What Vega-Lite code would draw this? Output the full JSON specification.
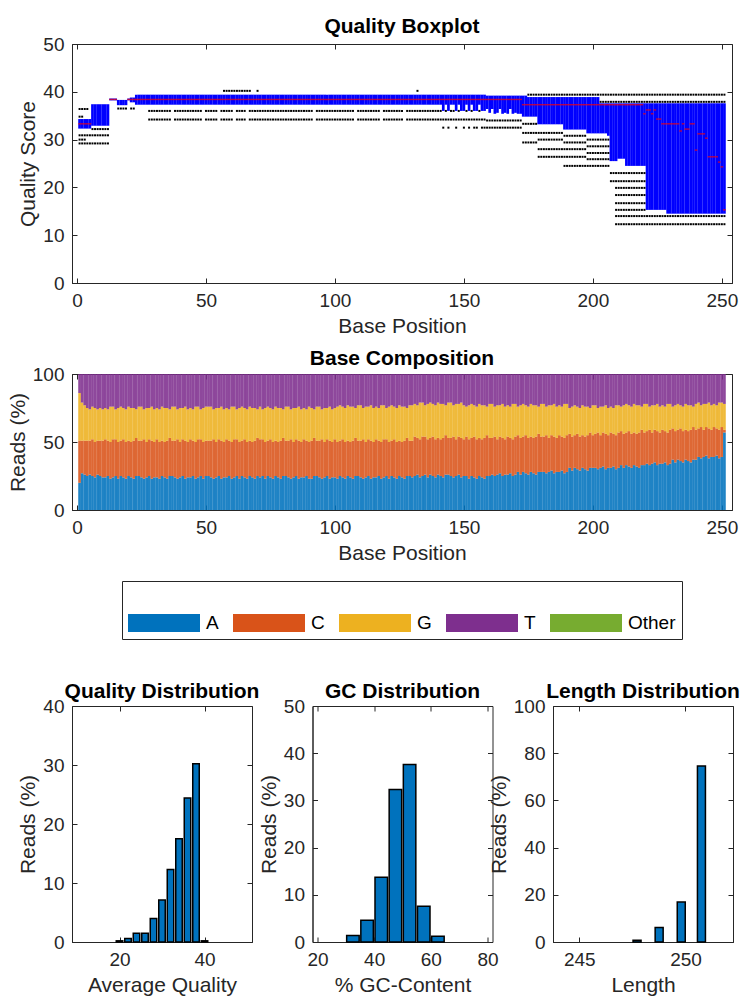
{
"$schema": "https://vega.github.io/schema/vega-lite/v6.json",
"padding": {"left": 6, "top": 15, "right": 4, "bottom": 4},
"config": {
  "font": "Liberation Sans",
  "view": {"stroke": "#262626", "strokeWidth": 1},
  "axis": {"grid": false, "labelFont": "Liberation Sans", "labelFontSize": 19, "labelColor": "#262626", "titleFont": "Liberation Sans", "titleFontSize": 21, "titleFontWeight": "normal", "titleColor": "#262626", "domainColor": "#262626", "tickColor": "#262626", "tickSize": -5, "labelPadding": 13, "labelFlush": false, "labelOverlap": false},
  "axisX": {"titlePadding": 5},
  "axisY": {"titlePadding": 4},
  "title": {"fontSize": 21, "fontWeight": "bold", "color": "#000000", "font": "Liberation Sans"}
},
"bounds": "flush",
"spacing": 91,
"vconcat": [
  {
    "width": 660, "height": 239,
    "title": {"text": "Quality Boxplot", "frame": "group", "offset": -2},
    "data": {"name": "box"},
    "layer": [
      {"layer": [
        {"mark": {"type": "bar", "width": 2.7, "color": "#0000FF"},
         "encoding": {
           "x": {"field": "p", "type": "quantitative", "scale": {"domain": [0, 252], "nice": false, "zero": false}, "axis": {"values": [0, 50, 100, 150, 200, 250]}, "title": "Base Position"},
           "y": {"field": "q1", "type": "quantitative", "scale": {"domain": [0, 50], "nice": false}, "axis": {"values": [0, 10, 20, 30, 40, 50]}, "title": "Quality Score"},
           "y2": {"field": "q3"}}},
        {"mark": {"type": "tick", "orient": "horizontal", "size": 2.7, "thickness": 1.4, "color": "#FF0000"},
         "encoding": {
           "x": {"field": "p", "type": "quantitative", "title": "Base Position"},
           "y": {"field": "m", "type": "quantitative", "title": "Quality Score"}}},
        {"transform": [{"flatten": ["o"], "as": ["ov"]}],
         "mark": {"type": "square", "size": 4, "color": "#000000", "opacity": 1},
         "encoding": {
           "x": {"field": "p", "type": "quantitative", "title": "Base Position"},
           "y": {"field": "ov", "type": "quantitative", "title": "Quality Score"}}}
      ]},
      {"mark": {"type": "point", "opacity": 0},
       "encoding": {
         "x": {"field": "p", "type": "quantitative", "axis": {"orient": "top", "labels": false, "title": null, "domain": false, "values": [0, 50, 100, 150, 200, 250]}},
         "y": {"field": "q1", "type": "quantitative", "axis": {"orient": "right", "labels": false, "title": null, "domain": false, "values": [0, 10, 20, 30, 40, 50]}}}}
    ],
    "resolve": {"axis": {"x": "independent", "y": "independent"}}
  },
  {
    "width": 660, "height": 136,
    "title": {"text": "Base Composition", "frame": "group", "offset": -4},
    "data": {"name": "comp"},
    "layer": [
      {"transform": [{"fold": ["A", "C", "G", "T"], "as": ["base", "pct"]}],
       "mark": {"type": "bar", "width": 2.7, "opacity": 0.88},
       "encoding": {
         "x": {"field": "p", "type": "quantitative", "scale": {"domain": [0, 252], "nice": false, "zero": false}, "axis": {"values": [0, 50, 100, 150, 200, 250]}, "title": "Base Position"},
         "y": {"field": "pct", "type": "quantitative", "stack": "zero", "scale": {"domain": [0, 100], "nice": false}, "axis": {"values": [0, 50, 100]}, "title": "Reads (%)"},
         "color": {"field": "base", "type": "nominal",
           "scale": {"domain": ["A", "C", "G", "T", "Other"], "range": ["#0072BD", "#D95319", "#EDB120", "#7E2F8E", "#77AC30"]},
           "legend": {"orient": "none", "legendX": 50, "legendY": 537, "direction": "horizontal", "title": null, "symbolType": "M-1,-0.25H1V0.25H-1Z", "symbolSize": 5184, "symbolStrokeWidth": 0, "symbolOpacity": 1, "labelFontSize": 19, "labelColor": "#000000", "labelOffset": 6, "columnPadding": 14, "padding": 6, "strokeColor": "#262626", "fillColor": "#FFFFFF", "labelLimit": 200}},
         "order": {"field": "base", "sort": "ascending"}
       }},
      {"mark": {"type": "point", "opacity": 0},
       "encoding": {
         "x": {"field": "p", "type": "quantitative", "axis": {"orient": "top", "labels": false, "title": null, "domain": false, "values": [0, 50, 100, 150, 200, 250]}},
         "y": {"field": "A", "type": "quantitative", "axis": {"orient": "right", "labels": false, "title": null, "domain": false, "values": [0, 50, 100]}}}}
    ],
    "resolve": {"axis": {"x": "independent", "y": "independent"}}
  },
  {
    "width": 10, "height": 14, "view": {"stroke": null},
    "data": {"values": [{"s": 0}]},
    "mark": {"type": "point", "opacity": 0},
    "encoding": {}
  },
  {
    "bounds": "flush",
    "spacing": 60.5,
    "hconcat": [
      {
        "width": 180, "height": 236,
        "title": {"text": "Quality Distribution", "frame": "group", "offset": -5},
        "data": {"name": "qual"},
        "layer": [
          {"mark": {"type": "bar", "width": 6.5, "color": "#0072BD", "stroke": "#000000", "strokeWidth": 1.5},
           "encoding": {
             "x": {"field": "q", "type": "quantitative", "scale": {"domain": [10, 50], "nice": false, "zero": false}, "axis": {"values": [20, 40]}, "title": "Average Quality"},
             "y": {"field": "r", "type": "quantitative", "scale": {"domain": [0, 40], "nice": false}, "axis": {"values": [0, 10, 20, 30, 40]}, "title": "Reads (%)"}}},
          {"mark": {"type": "point", "opacity": 0},
           "encoding": {
             "x": {"field": "q", "type": "quantitative", "axis": {"orient": "top", "labels": false, "title": null, "domain": false, "values": [20, 40]}},
             "y": {"field": "r", "type": "quantitative", "axis": {"orient": "right", "labels": false, "title": null, "domain": false, "values": [0, 10, 20, 30, 40]}}}}
        ],
        "resolve": {"axis": {"x": "independent", "y": "independent"}}
      },
      {
        "width": 180, "height": 236,
        "title": {"text": "GC Distribution", "frame": "group", "offset": -5},
        "data": {"name": "gc"},
        "layer": [
          {"mark": {"type": "bar", "width": 12.5, "color": "#0072BD", "stroke": "#000000", "strokeWidth": 1.5},
           "encoding": {
             "x": {"field": "gc", "type": "quantitative", "scale": {"domain": [20, 80], "nice": false, "zero": false}, "axis": {"values": [20, 40, 60, 80]}, "title": "% GC-Content"},
             "y": {"field": "r", "type": "quantitative", "scale": {"domain": [0, 50], "nice": false}, "axis": {"values": [0, 10, 20, 30, 40, 50]}, "title": "Reads (%)"}}},
          {"mark": {"type": "point", "opacity": 0},
           "encoding": {
             "x": {"field": "gc", "type": "quantitative", "axis": {"orient": "top", "labels": false, "title": null, "domain": false, "values": [20, 40, 60, 80]}},
             "y": {"field": "r", "type": "quantitative", "axis": {"orient": "right", "labels": false, "title": null, "domain": false, "values": [0, 10, 20, 30, 40, 50]}}}}
        ],
        "resolve": {"axis": {"x": "independent", "y": "independent"}}
      },
      {
        "width": 180, "height": 236,
        "title": {"text": "Length Distribution", "frame": "group", "offset": -5},
        "data": {"name": "len"},
        "layer": [
          {"mark": {"type": "bar", "width": 8, "color": "#0072BD", "stroke": "#000000", "strokeWidth": 1.5},
           "encoding": {
             "x": {"field": "len", "type": "quantitative", "scale": {"domain": [244, 252], "nice": false, "zero": false}, "axis": {"values": [245, 250]}, "title": "Length"},
             "y": {"field": "r", "type": "quantitative", "scale": {"domain": [0, 100], "nice": false}, "axis": {"values": [0, 20, 40, 60, 80, 100]}, "title": "Reads (%)"}}},
          {"mark": {"type": "point", "opacity": 0},
           "encoding": {
             "x": {"field": "len", "type": "quantitative", "axis": {"orient": "top", "labels": false, "title": null, "domain": false, "values": [245, 250]}},
             "y": {"field": "r", "type": "quantitative", "axis": {"orient": "right", "labels": false, "title": null, "domain": false, "values": [0, 20, 40, 60, 80, 100]}}}}
        ],
        "resolve": {"axis": {"x": "independent", "y": "independent"}}
      }
    ]
  }
],
"datasets": {
  "qual": [{"q":20,"r":0.2},{"q":22,"r":0.6},{"q":24,"r":1.5},{"q":26,"r":1.5},{"q":28,"r":4.0},{"q":30,"r":7.1},{"q":32,"r":12.3},{"q":34,"r":17.5},{"q":36,"r":24.4},{"q":38,"r":30.2},{"q":40,"r":0.2}],
  "gc": [{"gc":32.5,"r":1.4},{"gc":37.5,"r":4.6},{"gc":42.5,"r":13.7},{"gc":47.5,"r":32.3},{"gc":52.5,"r":37.6},{"gc":57.5,"r":7.6},{"gc":62.5,"r":1.2}],
  "len": [{"len":247.72,"r":0.7},{"len":248.76,"r":6.1},{"len":249.8,"r":16.9},{"len":250.75,"r":74.6}],
  "box": [
{"p":1,"q1":32.3,"q3":34.3,"m":33.3,"o":[36.4,34.8,30.9,30,29.2]},
{"p":2,"q1":32.3,"q3":34.3,"m":33.3,"o":[36.4,34.8,30.9,30,29.2]},
{"p":3,"q1":32.3,"q3":34.3,"m":33.3,"o":[36.4,30.9,30,29.2]},
{"p":4,"q1":32.3,"q3":34.3,"m":33.3,"o":[36.4,30.9,29.2]},
{"p":5,"q1":32.3,"q3":34.3,"m":33.3,"o":[30.9,29.2]},
{"p":6,"q1":32.9,"q3":37.4,"m":null,"o":[32.2,30.9,29.2]},
{"p":7,"q1":32.9,"q3":37.4,"m":null,"o":[32.2,30.9,29.2]},
{"p":8,"q1":32.9,"q3":37.4,"m":null,"o":[32.2,30.9,29.2]},
{"p":9,"q1":32.9,"q3":37.4,"m":null,"o":[32.2,30.9,29.2]},
{"p":10,"q1":32.9,"q3":37.4,"m":null,"o":[32.2,30.9,29.2]},
{"p":11,"q1":32.9,"q3":37.4,"m":null,"o":[32.2,30.9,29.2]},
{"p":12,"q1":32.9,"q3":37.4,"m":null,"o":[32.2,30.9,29.2]},
{"p":13,"q1":38.2,"q3":38.6,"m":38.4,"o":[]},
{"p":14,"q1":38.2,"q3":38.6,"m":38.4,"o":[]},
{"p":15,"q1":38.2,"q3":38.6,"m":38.4,"o":[]},
{"p":16,"q1":37.2,"q3":38.3,"m":null,"o":[36.5]},
{"p":17,"q1":37.2,"q3":38.3,"m":null,"o":[36.5]},
{"p":18,"q1":37.2,"q3":38.3,"m":null,"o":[36.5]},
{"p":19,"q1":37.2,"q3":38.3,"m":null,"o":[36.5]},
{"p":20,"q1":38.2,"q3":38.6,"m":38.4,"o":[]},
{"p":21,"q1":37.8,"q3":38.8,"m":38.4,"o":[36.5]},
{"p":22,"q1":37.8,"q3":38.8,"m":38.4,"o":[36.5]},
{"p":23,"q1":37.3,"q3":39.4,"m":38.4,"o":[]},
{"p":24,"q1":37.3,"q3":39.4,"m":38.4,"o":[]},
{"p":25,"q1":37.3,"q3":39.4,"m":38.4,"o":[]},
{"p":26,"q1":37.3,"q3":39.4,"m":38.4,"o":[]},
{"p":27,"q1":37.3,"q3":39.4,"m":38.4,"o":[]},
{"p":28,"q1":37.3,"q3":39.4,"m":38.4,"o":[36,34.2]},
{"p":29,"q1":37.3,"q3":39.4,"m":38.4,"o":[36,34.2]},
{"p":30,"q1":37.3,"q3":39.4,"m":38.4,"o":[36,34.2]},
{"p":31,"q1":37.3,"q3":39.4,"m":38.4,"o":[36,34.2]},
{"p":32,"q1":37.3,"q3":39.4,"m":38.4,"o":[36,34.2]},
{"p":33,"q1":37.3,"q3":39.4,"m":38.4,"o":[36,34.2]},
{"p":34,"q1":37.3,"q3":39.4,"m":38.4,"o":[36,34.2]},
{"p":35,"q1":37.3,"q3":39.4,"m":38.4,"o":[36,34.2]},
{"p":36,"q1":37.3,"q3":39.4,"m":38.4,"o":[36,34.2]},
{"p":37,"q1":37.3,"q3":39.4,"m":38.4,"o":[]},
{"p":38,"q1":37.3,"q3":39.4,"m":38.4,"o":[36,34.2]},
{"p":39,"q1":37.3,"q3":39.4,"m":38.4,"o":[36,34.2]},
{"p":40,"q1":37.3,"q3":39.4,"m":38.4,"o":[36,34.2]},
{"p":41,"q1":37.3,"q3":39.4,"m":38.4,"o":[36,34.2]},
{"p":42,"q1":37.3,"q3":39.4,"m":38.4,"o":[36,34.2]},
{"p":43,"q1":37.3,"q3":39.4,"m":38.4,"o":[36,34.2]},
{"p":44,"q1":37.3,"q3":39.4,"m":38.4,"o":[36,34.2]},
{"p":45,"q1":37.3,"q3":39.4,"m":38.4,"o":[36,34.2]},
{"p":46,"q1":37.3,"q3":39.4,"m":38.4,"o":[36,34.2]},
{"p":47,"q1":37.3,"q3":39.4,"m":38.4,"o":[36,34.2]},
{"p":48,"q1":37.3,"q3":39.4,"m":38.4,"o":[36,34.2]},
{"p":49,"q1":37.3,"q3":39.4,"m":38.4,"o":[]},
{"p":50,"q1":37.3,"q3":39.4,"m":38.4,"o":[36,34.2]},
{"p":51,"q1":37.3,"q3":39.4,"m":38.4,"o":[36,34.2]},
{"p":52,"q1":37.3,"q3":39.4,"m":38.4,"o":[36,34.2]},
{"p":53,"q1":37.3,"q3":39.4,"m":38.4,"o":[36,34.2]},
{"p":54,"q1":37.3,"q3":39.4,"m":38.4,"o":[36,34.2]},
{"p":55,"q1":37.3,"q3":39.4,"m":38.4,"o":[]},
{"p":56,"q1":37.3,"q3":39.4,"m":38.4,"o":[36,34.2]},
{"p":57,"q1":37.3,"q3":39.4,"m":38.4,"o":[40.2,36,34.2]},
{"p":58,"q1":37.3,"q3":39.4,"m":38.4,"o":[40.2,36,34.2]},
{"p":59,"q1":37.3,"q3":39.4,"m":38.4,"o":[40.2,36,34.2]},
{"p":60,"q1":37.3,"q3":39.4,"m":38.4,"o":[40.2,36,34.2]},
{"p":61,"q1":37.3,"q3":39.4,"m":38.4,"o":[40.2]},
{"p":62,"q1":37.3,"q3":39.4,"m":38.4,"o":[40.2,36,34.2]},
{"p":63,"q1":37.3,"q3":39.4,"m":38.4,"o":[40.2,36,34.2]},
{"p":64,"q1":37.3,"q3":39.4,"m":38.4,"o":[40.2,36,34.2]},
{"p":65,"q1":37.3,"q3":39.4,"m":38.4,"o":[40.2,36,34.2]},
{"p":66,"q1":37.3,"q3":39.4,"m":38.4,"o":[40.2]},
{"p":67,"q1":37.3,"q3":39.4,"m":38.4,"o":[40.2,36,34.2]},
{"p":68,"q1":37.3,"q3":39.4,"m":38.4,"o":[36,34.2]},
{"p":69,"q1":37.3,"q3":39.4,"m":38.4,"o":[36,34.2]},
{"p":70,"q1":37.3,"q3":39.4,"m":38.4,"o":[40.2,36,34.2]},
{"p":71,"q1":37.3,"q3":39.4,"m":38.4,"o":[36,34.2]},
{"p":72,"q1":37.3,"q3":39.4,"m":38.4,"o":[36,34.2]},
{"p":73,"q1":37.3,"q3":39.4,"m":38.4,"o":[36,34.2]},
{"p":74,"q1":37.3,"q3":39.4,"m":38.4,"o":[36,34.2]},
{"p":75,"q1":37.3,"q3":39.4,"m":38.4,"o":[36,34.2]},
{"p":76,"q1":37.3,"q3":39.4,"m":38.4,"o":[36,34.2]},
{"p":77,"q1":37.3,"q3":39.4,"m":38.4,"o":[36,34.2]},
{"p":78,"q1":37.3,"q3":39.4,"m":38.4,"o":[36,34.2]},
{"p":79,"q1":37.3,"q3":39.4,"m":38.4,"o":[36,34.2]},
{"p":80,"q1":37.3,"q3":39.4,"m":38.4,"o":[36,34.2]},
{"p":81,"q1":37.3,"q3":39.4,"m":38.4,"o":[36,34.2]},
{"p":82,"q1":37.3,"q3":39.4,"m":38.4,"o":[36,34.2]},
{"p":83,"q1":37.3,"q3":39.4,"m":38.4,"o":[36,34.2]},
{"p":84,"q1":37.3,"q3":39.4,"m":38.4,"o":[36,34.2]},
{"p":85,"q1":37.3,"q3":39.4,"m":38.4,"o":[36,34.2]},
{"p":86,"q1":37.3,"q3":39.4,"m":38.4,"o":[36,34.2]},
{"p":87,"q1":37.3,"q3":39.4,"m":38.4,"o":[36,34.2]},
{"p":88,"q1":37.3,"q3":39.4,"m":38.4,"o":[36,34.2]},
{"p":89,"q1":37.3,"q3":39.4,"m":38.4,"o":[36,34.2]},
{"p":90,"q1":37.3,"q3":39.4,"m":38.4,"o":[36,34.2]},
{"p":91,"q1":37.3,"q3":39.4,"m":38.4,"o":[36,34.2]},
{"p":92,"q1":37.3,"q3":39.4,"m":38.4,"o":[]},
{"p":93,"q1":37.3,"q3":39.4,"m":38.4,"o":[36,34.2]},
{"p":94,"q1":37.3,"q3":39.4,"m":38.4,"o":[36,34.2]},
{"p":95,"q1":37.3,"q3":39.4,"m":38.4,"o":[36,34.2]},
{"p":96,"q1":37.3,"q3":39.4,"m":38.4,"o":[36,34.2]},
{"p":97,"q1":37.3,"q3":39.4,"m":38.4,"o":[36,34.2]},
{"p":98,"q1":37.3,"q3":39.4,"m":38.4,"o":[36,34.2]},
{"p":99,"q1":37.3,"q3":39.4,"m":38.4,"o":[36,34.2]},
{"p":100,"q1":37.3,"q3":39.4,"m":38.4,"o":[36,34.2]},
{"p":101,"q1":37.3,"q3":39.4,"m":38.4,"o":[36,34.2]},
{"p":102,"q1":37.3,"q3":39.4,"m":38.4,"o":[36,34.2]},
{"p":103,"q1":37.3,"q3":39.4,"m":38.4,"o":[36,34.2]},
{"p":104,"q1":37.3,"q3":39.4,"m":38.4,"o":[36,34.2]},
{"p":105,"q1":37.3,"q3":39.4,"m":38.4,"o":[36,34.2]},
{"p":106,"q1":37.3,"q3":39.4,"m":38.4,"o":[36,34.2]},
{"p":107,"q1":37.3,"q3":39.4,"m":38.4,"o":[36,34.2]},
{"p":108,"q1":37.3,"q3":39.4,"m":38.4,"o":[]},
{"p":109,"q1":37.3,"q3":39.4,"m":38.4,"o":[36,34.2]},
{"p":110,"q1":37.3,"q3":39.4,"m":38.4,"o":[36,34.2]},
{"p":111,"q1":37.3,"q3":39.4,"m":38.4,"o":[36,34.2]},
{"p":112,"q1":37.3,"q3":39.4,"m":38.4,"o":[36,34.2]},
{"p":113,"q1":37.3,"q3":39.4,"m":38.4,"o":[36,34.2]},
{"p":114,"q1":37.3,"q3":39.4,"m":38.4,"o":[36,34.2]},
{"p":115,"q1":37.3,"q3":39.4,"m":38.4,"o":[36,34.2]},
{"p":116,"q1":37.3,"q3":39.4,"m":38.4,"o":[36,34.2]},
{"p":117,"q1":37.3,"q3":39.4,"m":38.4,"o":[36,34.2]},
{"p":118,"q1":37.3,"q3":39.4,"m":38.4,"o":[]},
{"p":119,"q1":37.3,"q3":39.4,"m":38.4,"o":[36,34.2]},
{"p":120,"q1":37.3,"q3":39.4,"m":38.4,"o":[36,34.2]},
{"p":121,"q1":37.3,"q3":39.4,"m":38.4,"o":[36,34.2]},
{"p":122,"q1":37.3,"q3":39.4,"m":38.4,"o":[36,34.2]},
{"p":123,"q1":37.3,"q3":39.4,"m":38.4,"o":[36,34.2]},
{"p":124,"q1":37.3,"q3":39.4,"m":38.4,"o":[36,34.2]},
{"p":125,"q1":37.3,"q3":39.4,"m":38.4,"o":[36,34.2]},
{"p":126,"q1":37.3,"q3":39.4,"m":38.4,"o":[36,34.2]},
{"p":127,"q1":37.3,"q3":39.4,"m":38.4,"o":[]},
{"p":128,"q1":37.3,"q3":39.4,"m":38.4,"o":[36,34.2]},
{"p":129,"q1":37.3,"q3":39.4,"m":38.4,"o":[36,34.2]},
{"p":130,"q1":37.3,"q3":39.4,"m":38.4,"o":[36,34.2]},
{"p":131,"q1":37.3,"q3":39.4,"m":38.4,"o":[36,34.2]},
{"p":132,"q1":37.3,"q3":39.4,"m":38.4,"o":[40.2,36,34.2]},
{"p":133,"q1":37.3,"q3":39.4,"m":38.4,"o":[36,34.2]},
{"p":134,"q1":37.3,"q3":39.4,"m":38.4,"o":[36,34.2]},
{"p":135,"q1":37.3,"q3":39.4,"m":38.4,"o":[36,34.2]},
{"p":136,"q1":37.3,"q3":39.4,"m":38.4,"o":[36,34.2]},
{"p":137,"q1":37.3,"q3":39.4,"m":38.4,"o":[36,34.2]},
{"p":138,"q1":37.3,"q3":39.4,"m":38.4,"o":[36,34.2]},
{"p":139,"q1":37.3,"q3":39.4,"m":38.4,"o":[36,34.2]},
{"p":140,"q1":37.3,"q3":39.4,"m":38.4,"o":[36,34.2]},
{"p":141,"q1":37.3,"q3":39.4,"m":38.4,"o":[36,34.2]},
{"p":142,"q1":36,"q3":39.4,"m":38.4,"o":[34.2,32.5]},
{"p":143,"q1":37.3,"q3":39.4,"m":38.4,"o":[36,34.2]},
{"p":144,"q1":36,"q3":39.4,"m":38.4,"o":[34.2,32.5]},
{"p":145,"q1":37.3,"q3":39.4,"m":38.4,"o":[36,34.2]},
{"p":146,"q1":37.3,"q3":39.4,"m":38.4,"o":[36,34.2]},
{"p":147,"q1":36,"q3":39.4,"m":38.4,"o":[34.2,32.5]},
{"p":148,"q1":37.3,"q3":39.4,"m":38.4,"o":[36,34.2]},
{"p":149,"q1":36,"q3":39.4,"m":38.4,"o":[34.2]},
{"p":150,"q1":36,"q3":39.4,"m":38.4,"o":[34.2,32.5]},
{"p":151,"q1":37.3,"q3":39.4,"m":38.4,"o":[36,34.2]},
{"p":152,"q1":36,"q3":39.4,"m":38.4,"o":[34.2,32.5]},
{"p":153,"q1":37.3,"q3":39.4,"m":38.4,"o":[36,34.2]},
{"p":154,"q1":36,"q3":39.4,"m":38.4,"o":[34.2,32.5]},
{"p":155,"q1":36,"q3":39.4,"m":38.4,"o":[34.2,32.5]},
{"p":156,"q1":37.3,"q3":39.4,"m":38.4,"o":[36,34.2]},
{"p":157,"q1":36,"q3":39.4,"m":38.4,"o":[34.2,32.5]},
{"p":158,"q1":36,"q3":39.4,"m":38.4,"o":[34.2,32.5]},
{"p":159,"q1":36.4,"q3":39.2,"m":38.4,"o":[34,32.5]},
{"p":160,"q1":35.6,"q3":39.2,"m":38.4,"o":[34,32.5]},
{"p":161,"q1":36.4,"q3":39.2,"m":38.4,"o":[34,32.5]},
{"p":162,"q1":35.4,"q3":39.2,"m":38.4,"o":[34,32.5]},
{"p":163,"q1":35.6,"q3":39.2,"m":38.4,"o":[34,32.5]},
{"p":164,"q1":36.4,"q3":39.2,"m":38.4,"o":[34,32.5]},
{"p":165,"q1":35.4,"q3":39.2,"m":38.4,"o":[34,32.5]},
{"p":166,"q1":35.6,"q3":39.2,"m":38.4,"o":[34,32.5]},
{"p":167,"q1":35.4,"q3":39.2,"m":38.4,"o":[34,32.5]},
{"p":168,"q1":36.4,"q3":39.2,"m":38.4,"o":[34,32.5]},
{"p":169,"q1":35.4,"q3":39.2,"m":38.4,"o":[34,32.5]},
{"p":170,"q1":35.6,"q3":39.2,"m":38.4,"o":[34,32.5]},
{"p":171,"q1":35.4,"q3":39.2,"m":38.4,"o":[34,32.5]},
{"p":172,"q1":35.4,"q3":39.2,"m":38.4,"o":[34,32.5]},
{"p":173,"q1":34.8,"q3":39.2,"m":37.3,"o":[33.3,31.4,29.4]},
{"p":174,"q1":34.8,"q3":39.2,"m":37.3,"o":[33.3,31.4,29.4]},
{"p":175,"q1":34.8,"q3":38.9,"m":37.3,"o":[39.4,33.3,31.4,29.4]},
{"p":176,"q1":34.8,"q3":38.9,"m":37.3,"o":[39.4,33.3,31.4,29.4]},
{"p":177,"q1":34.8,"q3":38.9,"m":37.3,"o":[39.4,33.3,31.4,29.4]},
{"p":178,"q1":34.8,"q3":38.9,"m":37.3,"o":[39.4,33.3,31.4,29.4]},
{"p":179,"q1":33.2,"q3":38.9,"m":37.3,"o":[39.4,31.4,30,28,26.4]},
{"p":180,"q1":33.2,"q3":38.9,"m":37.3,"o":[39.4,31.4,30,28,26.4]},
{"p":181,"q1":33.2,"q3":38.9,"m":37.3,"o":[39.4,31.4,30,28,26.4]},
{"p":182,"q1":33.2,"q3":38.9,"m":37.3,"o":[39.4,31.4,30,28,26.4]},
{"p":183,"q1":33.2,"q3":38.9,"m":37.3,"o":[39.4,31.4,30,28,26.4]},
{"p":184,"q1":33.2,"q3":38.9,"m":37.3,"o":[39.4,31.4,30,28,26.4]},
{"p":185,"q1":33.2,"q3":38.9,"m":37.3,"o":[39.4,31.4,30,28,26.4]},
{"p":186,"q1":33.2,"q3":38.9,"m":37.3,"o":[39.4,31.4,30,28,26.4]},
{"p":187,"q1":33.2,"q3":38.9,"m":37.3,"o":[39.4,31.4,30,28,26.4]},
{"p":188,"q1":33.2,"q3":38.9,"m":37.3,"o":[39.4,31.4,30,28,26.4]},
{"p":189,"q1":32.1,"q3":38.9,"m":37.3,"o":[39.4,30.8,29.4,28,26.4,24.5]},
{"p":190,"q1":32.1,"q3":38.9,"m":37.3,"o":[39.4,30.8,29.4,28,26.4,24.5]},
{"p":191,"q1":32.1,"q3":38.9,"m":37.3,"o":[39.4,30.8,29.4,28,26.4,24.5]},
{"p":192,"q1":32.1,"q3":38.9,"m":37.3,"o":[39.4,30.8,29.4,28,26.4,24.5]},
{"p":193,"q1":32.1,"q3":38.9,"m":37.3,"o":[39.4,30.8,29.4,28,26.4,24.5]},
{"p":194,"q1":32.1,"q3":38.9,"m":37.3,"o":[39.4,30.8,29.4,28,26.4,24.5]},
{"p":195,"q1":32.1,"q3":38.9,"m":37.3,"o":[39.4,30.8,29.4,28,26.4,24.5]},
{"p":196,"q1":32.1,"q3":38.9,"m":37.3,"o":[39.4,30.8,29.4,28,26.4,24.5]},
{"p":197,"q1":32.1,"q3":38.9,"m":37.3,"o":[39.4,30.8,29.4,28,26.4,24.5]},
{"p":198,"q1":31.3,"q3":38.9,"m":37.3,"o":[39.4,30,28.6,27.2,25.9,24.5]},
{"p":199,"q1":31.3,"q3":38.9,"m":37.3,"o":[39.4,30,28.6,27.2,25.9,24.5]},
{"p":200,"q1":31.3,"q3":38.9,"m":37.3,"o":[39.4,30,28.6,27.2,25.9,24.5]},
{"p":201,"q1":31.3,"q3":38.9,"m":37.3,"o":[39.4,30,28.6,27.2,25.9,24.5]},
{"p":202,"q1":31.3,"q3":38.9,"m":37.3,"o":[39.4,30,28.6,27.2,25.9,24.5]},
{"p":203,"q1":31.3,"q3":37.6,"m":37.3,"o":[39.4,37.9,30,28.6,27.2,25.9,24.5]},
{"p":204,"q1":31.3,"q3":37.6,"m":37.3,"o":[39.4,37.9,30,28.6,27.2,25.9,24.5]},
{"p":205,"q1":31.3,"q3":37.6,"m":37.3,"o":[39.4,37.9,30,28.6,27.2,25.9,24.5]},
{"p":206,"q1":30.8,"q3":37.6,"m":37.3,"o":[39.4,37.9,30,28.6,27.2,25.9,24.5]},
{"p":207,"q1":25.5,"q3":37.6,"m":37.3,"o":[39.4,37.9,23,21.3]},
{"p":208,"q1":25.5,"q3":37.6,"m":37.3,"o":[39.4,37.9,23,21.3]},
{"p":209,"q1":25.5,"q3":37.6,"m":37.3,"o":[39.4,37.9,23,21.3,19.9,18.4,16.7,15.3,14,12.3]},
{"p":210,"q1":26,"q3":37.6,"m":37.3,"o":[39.4,37.9,23,21.3,19.9,18.4,16.7,15.3,14,12.3]},
{"p":211,"q1":26,"q3":37.6,"m":37.3,"o":[39.4,37.9,23,21.3,19.9,18.4,16.7,15.3,14,12.3]},
{"p":212,"q1":26,"q3":37.6,"m":37.3,"o":[39.4,37.9,23,21.3,19.9,18.4,16.7,15.3,14,12.3]},
{"p":213,"q1":24.5,"q3":37.6,"m":37.3,"o":[39.4,37.9,23,21.3,19.9,18.4,16.7,15.3,14,12.3]},
{"p":214,"q1":24.5,"q3":37.6,"m":37.3,"o":[39.4,37.9,23,21.3,19.9,18.4,16.7,15.3,14,12.3]},
{"p":215,"q1":24.5,"q3":37.6,"m":37.3,"o":[39.4,37.9,23,21.3,19.9,18.4,16.7,15.3,14,12.3]},
{"p":216,"q1":24.5,"q3":37.6,"m":37.3,"o":[39.4,37.9,23,21.3,19.9,18.4,16.7,15.3,14,12.3]},
{"p":217,"q1":24.5,"q3":37.6,"m":37.3,"o":[39.4,37.9,23,21.3,19.9,18.4,16.7,15.3,14,12.3]},
{"p":218,"q1":24.5,"q3":37.6,"m":37.3,"o":[39.4,37.9,23,21.3,19.9,18.4,16.7,15.3,14,12.3]},
{"p":219,"q1":24.5,"q3":37.6,"m":37.3,"o":[39.4,37.9,23,21.3,19.9,18.4,16.7,15.3,14,12.3]},
{"p":220,"q1":24.5,"q3":37.6,"m":35.4,"o":[39.4,37.9,23,21.3,19.9,18.4,16.7,15.3,14,12.3]},
{"p":221,"q1":15.3,"q3":37.6,"m":36.2,"o":[39.4,37.9,14,12.3]},
{"p":222,"q1":15.3,"q3":37.6,"m":36.2,"o":[39.4,37.9,14,12.3]},
{"p":223,"q1":15.3,"q3":37.6,"m":35.4,"o":[39.4,37.9,14,12.3]},
{"p":224,"q1":15.3,"q3":37.6,"m":36.2,"o":[39.4,37.9,14,12.3]},
{"p":225,"q1":15.3,"q3":37.6,"m":34.3,"o":[39.4,37.9,14,12.3]},
{"p":226,"q1":15.3,"q3":37.6,"m":34.3,"o":[39.4,37.9,14,12.3]},
{"p":227,"q1":15.3,"q3":37.6,"m":33.3,"o":[39.4,37.9,14,12.3]},
{"p":228,"q1":15.3,"q3":37.6,"m":33.3,"o":[39.4,37.9,14,12.3]},
{"p":229,"q1":14.5,"q3":37.6,"m":33.3,"o":[39.4,37.9,14,12.3]},
{"p":230,"q1":14.5,"q3":37.6,"m":33.3,"o":[39.4,37.9,14,12.3]},
{"p":231,"q1":14.5,"q3":37.6,"m":33.3,"o":[39.4,37.9,14,12.3]},
{"p":232,"q1":14.5,"q3":37.6,"m":33.3,"o":[39.4,37.9,14,12.3]},
{"p":233,"q1":14.5,"q3":37.6,"m":33.3,"o":[39.4,37.9,14,12.3]},
{"p":234,"q1":14.5,"q3":37.6,"m":31.8,"o":[39.4,37.9,14,12.3]},
{"p":235,"q1":14.5,"q3":37.6,"m":33.3,"o":[39.4,37.9,14,12.3]},
{"p":236,"q1":14.5,"q3":37.6,"m":32.2,"o":[39.4,37.9,14,12.3]},
{"p":237,"q1":14.5,"q3":37.6,"m":32.2,"o":[39.4,37.9,14,12.3]},
{"p":238,"q1":14.5,"q3":37.6,"m":33.3,"o":[39.4,37.9,14,12.3]},
{"p":239,"q1":14.5,"q3":37.6,"m":33.3,"o":[39.4,37.9,14,12.3]},
{"p":240,"q1":14.5,"q3":37.6,"m":27.8,"o":[39.4,37.9,14,12.3]},
{"p":241,"q1":14.5,"q3":37.6,"m":31.2,"o":[39.4,37.9,14,12.3]},
{"p":242,"q1":14.5,"q3":37.6,"m":31.2,"o":[39.4,37.9,14,12.3]},
{"p":243,"q1":14.5,"q3":37.6,"m":31.2,"o":[39.4,37.9,14,12.3]},
{"p":244,"q1":14.5,"q3":37.6,"m":30.3,"o":[39.4,37.9,14,12.3]},
{"p":245,"q1":14.5,"q3":37.6,"m":26.4,"o":[39.4,37.9,14,12.3]},
{"p":246,"q1":14.5,"q3":37.6,"m":26.4,"o":[39.4,37.9,14,12.3]},
{"p":247,"q1":14.5,"q3":37.6,"m":26.4,"o":[39.4,37.9,14,12.3]},
{"p":248,"q1":14.5,"q3":37.6,"m":26.4,"o":[39.4,37.9,14,12.3]},
{"p":249,"q1":14.5,"q3":37.6,"m":25.3,"o":[39.4,37.9,14,12.3]},
{"p":250,"q1":14.5,"q3":37.6,"m":24.3,"o":[39.4,37.9,14,12.3]},
{"p":251,"q1":14.5,"q3":37.6,"m":15.3,"o":[39.4,37.9,14,12.3]}
  ],
  "comp": [
{"p":1,"A":20,"C":31,"G":35,"T":14},{"p":2,"A":27,"C":24,"G":28,"T":21},{"p":3,"A":26,"C":25,"G":26,"T":23},{"p":4,"A":25,"C":26,"G":24,"T":25},{"p":5,"A":26,"C":25,"G":23,"T":26},
{"p":6,"A":25,"C":27,"G":24,"T":24},{"p":7,"A":24,"C":26,"G":25,"T":25},{"p":8,"A":26,"C":25,"G":23,"T":26},{"p":9,"A":25,"C":26,"G":24,"T":25},{"p":10,"A":24,"C":27,"G":23,"T":26},
{"p":11,"A":24,"C":28,"G":23,"T":25},{"p":12,"A":25,"C":26,"G":23,"T":26},{"p":13,"A":23,"C":27,"G":26,"T":24},{"p":14,"A":24,"C":28,"G":24,"T":24},{"p":15,"A":25,"C":27,"G":22,"T":26},
{"p":16,"A":23,"C":27,"G":25,"T":25},{"p":17,"A":25,"C":26,"G":25,"T":24},{"p":18,"A":24,"C":28,"G":23,"T":25},{"p":19,"A":23,"C":27,"G":24,"T":26},{"p":20,"A":25,"C":26,"G":25,"T":24},
{"p":21,"A":24,"C":26,"G":25,"T":25},{"p":22,"A":23,"C":28,"G":24,"T":25},{"p":23,"A":25,"C":28,"G":21,"T":26},{"p":24,"A":25,"C":26,"G":25,"T":24},{"p":25,"A":24,"C":27,"G":25,"T":24},
{"p":26,"A":23,"C":29,"G":22,"T":26},{"p":27,"A":24,"C":26,"G":25,"T":25},{"p":28,"A":25,"C":27,"G":23,"T":25},{"p":29,"A":23,"C":28,"G":25,"T":24},{"p":30,"A":24,"C":26,"G":24,"T":26},
{"p":31,"A":24,"C":28,"G":23,"T":25},{"p":32,"A":23,"C":27,"G":24,"T":26},{"p":33,"A":25,"C":26,"G":25,"T":24},{"p":34,"A":24,"C":26,"G":25,"T":25},{"p":35,"A":23,"C":28,"G":24,"T":25},
{"p":36,"A":25,"C":28,"G":21,"T":26},{"p":37,"A":25,"C":26,"G":25,"T":24},{"p":38,"A":24,"C":27,"G":25,"T":24},{"p":39,"A":23,"C":29,"G":22,"T":26},{"p":40,"A":24,"C":26,"G":25,"T":25},
{"p":41,"A":25,"C":27,"G":23,"T":25},{"p":42,"A":23,"C":28,"G":25,"T":24},{"p":43,"A":24,"C":26,"G":24,"T":26},{"p":44,"A":24,"C":28,"G":23,"T":25},{"p":45,"A":25,"C":26,"G":23,"T":26},
{"p":46,"A":23,"C":27,"G":26,"T":24},{"p":47,"A":24,"C":28,"G":24,"T":24},{"p":48,"A":25,"C":27,"G":22,"T":26},{"p":49,"A":23,"C":27,"G":25,"T":25},{"p":50,"A":25,"C":26,"G":25,"T":24},
{"p":51,"A":25,"C":26,"G":25,"T":24},{"p":52,"A":24,"C":27,"G":25,"T":24},{"p":53,"A":23,"C":29,"G":22,"T":26},{"p":54,"A":24,"C":26,"G":25,"T":25},{"p":55,"A":25,"C":27,"G":23,"T":25},
{"p":56,"A":23,"C":28,"G":25,"T":24},{"p":57,"A":24,"C":26,"G":24,"T":26},{"p":58,"A":24,"C":28,"G":23,"T":25},{"p":59,"A":25,"C":26,"G":23,"T":26},{"p":60,"A":23,"C":27,"G":26,"T":24},
{"p":61,"A":24,"C":28,"G":24,"T":24},{"p":62,"A":25,"C":27,"G":22,"T":26},{"p":63,"A":23,"C":27,"G":25,"T":25},{"p":64,"A":25,"C":26,"G":25,"T":24},{"p":65,"A":24,"C":28,"G":23,"T":25},
{"p":66,"A":23,"C":27,"G":24,"T":26},{"p":67,"A":25,"C":26,"G":25,"T":24},{"p":68,"A":24,"C":26,"G":25,"T":25},{"p":69,"A":23,"C":28,"G":24,"T":25},{"p":70,"A":25,"C":28,"G":21,"T":26},
{"p":71,"A":24,"C":28,"G":24,"T":24},{"p":72,"A":25,"C":27,"G":22,"T":26},{"p":73,"A":23,"C":27,"G":25,"T":25},{"p":74,"A":25,"C":26,"G":25,"T":24},{"p":75,"A":24,"C":28,"G":23,"T":25},
{"p":76,"A":23,"C":27,"G":24,"T":26},{"p":77,"A":25,"C":26,"G":25,"T":24},{"p":78,"A":24,"C":26,"G":25,"T":25},{"p":79,"A":23,"C":28,"G":24,"T":25},{"p":80,"A":25,"C":28,"G":21,"T":26},
{"p":81,"A":25,"C":26,"G":25,"T":24},{"p":82,"A":24,"C":27,"G":25,"T":24},{"p":83,"A":23,"C":29,"G":22,"T":26},{"p":84,"A":24,"C":26,"G":25,"T":25},{"p":85,"A":25,"C":27,"G":23,"T":25},
{"p":86,"A":23,"C":28,"G":25,"T":24},{"p":87,"A":24,"C":26,"G":24,"T":26},{"p":88,"A":24,"C":28,"G":23,"T":25},{"p":89,"A":25,"C":26,"G":23,"T":26},{"p":90,"A":23,"C":27,"G":26,"T":24},
{"p":91,"A":23,"C":28,"G":24,"T":25},{"p":92,"A":25,"C":28,"G":21,"T":26},{"p":93,"A":25,"C":26,"G":25,"T":24},{"p":94,"A":24,"C":27,"G":25,"T":24},{"p":95,"A":23,"C":29,"G":22,"T":26},
{"p":96,"A":24,"C":26,"G":25,"T":25},{"p":97,"A":25,"C":27,"G":23,"T":25},{"p":98,"A":23,"C":28,"G":25,"T":24},{"p":99,"A":24,"C":26,"G":24,"T":26},{"p":100,"A":24,"C":28,"G":23,"T":25},
{"p":101,"A":23,"C":27,"G":26,"T":24},{"p":102,"A":25,"C":26,"G":26,"T":23},{"p":103,"A":24,"C":28,"G":24,"T":24},{"p":104,"A":23,"C":27,"G":25,"T":25},{"p":105,"A":25,"C":26,"G":26,"T":23},
{"p":106,"A":24,"C":26,"G":26,"T":24},{"p":107,"A":23,"C":28,"G":25,"T":24},{"p":108,"A":25,"C":28,"G":22,"T":25},{"p":109,"A":25,"C":26,"G":26,"T":23},{"p":110,"A":24,"C":27,"G":26,"T":23},
{"p":111,"A":23,"C":29,"G":23,"T":25},{"p":112,"A":24,"C":26,"G":26,"T":24},{"p":113,"A":25,"C":27,"G":24,"T":24},{"p":114,"A":23,"C":28,"G":26,"T":23},{"p":115,"A":24,"C":26,"G":25,"T":25},
{"p":116,"A":24,"C":28,"G":24,"T":24},{"p":117,"A":25,"C":26,"G":24,"T":25},{"p":118,"A":23,"C":27,"G":27,"T":23},{"p":119,"A":24,"C":28,"G":25,"T":23},{"p":120,"A":25,"C":27,"G":23,"T":25},
{"p":121,"A":23,"C":27,"G":26,"T":24},{"p":122,"A":25,"C":26,"G":26,"T":23},{"p":123,"A":24,"C":28,"G":24,"T":24},{"p":124,"A":23,"C":27,"G":25,"T":25},{"p":125,"A":25,"C":26,"G":26,"T":23},
{"p":126,"A":24,"C":26,"G":26,"T":24},{"p":127,"A":23,"C":28,"G":25,"T":24},{"p":128,"A":25,"C":28,"G":22,"T":25},{"p":129,"A":25,"C":26,"G":26,"T":23},{"p":130,"A":24,"C":27,"G":26,"T":23},
{"p":131,"A":25,"C":29,"G":24,"T":22},{"p":132,"A":26,"C":27,"G":24,"T":23},{"p":133,"A":24,"C":28,"G":27,"T":21},{"p":134,"A":25,"C":29,"G":25,"T":21},{"p":135,"A":26,"C":28,"G":23,"T":23},
{"p":136,"A":24,"C":28,"G":26,"T":22},{"p":137,"A":26,"C":27,"G":26,"T":21},{"p":138,"A":25,"C":29,"G":24,"T":22},{"p":139,"A":24,"C":28,"G":25,"T":23},{"p":140,"A":26,"C":27,"G":26,"T":21},
{"p":141,"A":25,"C":27,"G":26,"T":22},{"p":142,"A":24,"C":29,"G":25,"T":22},{"p":143,"A":26,"C":29,"G":22,"T":23},{"p":144,"A":26,"C":27,"G":26,"T":21},{"p":145,"A":25,"C":28,"G":26,"T":21},
{"p":146,"A":24,"C":30,"G":23,"T":23},{"p":147,"A":25,"C":27,"G":26,"T":22},{"p":148,"A":26,"C":28,"G":24,"T":22},{"p":149,"A":24,"C":29,"G":26,"T":21},{"p":150,"A":25,"C":27,"G":25,"T":23},
{"p":151,"A":25,"C":29,"G":22,"T":24},{"p":152,"A":23,"C":29,"G":25,"T":23},{"p":153,"A":25,"C":28,"G":25,"T":22},{"p":154,"A":24,"C":30,"G":23,"T":23},{"p":155,"A":23,"C":29,"G":24,"T":24},
{"p":156,"A":25,"C":28,"G":25,"T":22},{"p":157,"A":24,"C":28,"G":25,"T":23},{"p":158,"A":23,"C":30,"G":24,"T":23},{"p":159,"A":25,"C":30,"G":21,"T":24},{"p":160,"A":25,"C":28,"G":25,"T":22},
{"p":161,"A":26,"C":27,"G":25,"T":22},{"p":162,"A":25,"C":29,"G":22,"T":24},{"p":163,"A":26,"C":26,"G":25,"T":23},{"p":164,"A":27,"C":27,"G":23,"T":23},{"p":165,"A":25,"C":28,"G":25,"T":22},
{"p":166,"A":26,"C":26,"G":24,"T":24},{"p":167,"A":26,"C":28,"G":23,"T":23},{"p":168,"A":27,"C":26,"G":23,"T":24},{"p":169,"A":25,"C":27,"G":26,"T":22},{"p":170,"A":26,"C":28,"G":24,"T":22},
{"p":171,"A":28,"C":27,"G":21,"T":24},{"p":172,"A":26,"C":27,"G":24,"T":23},{"p":173,"A":28,"C":26,"G":24,"T":22},{"p":174,"A":27,"C":28,"G":22,"T":23},{"p":175,"A":26,"C":27,"G":23,"T":24},
{"p":176,"A":28,"C":26,"G":24,"T":22},{"p":177,"A":27,"C":26,"G":24,"T":23},{"p":178,"A":26,"C":28,"G":23,"T":23},{"p":179,"A":28,"C":28,"G":20,"T":24},{"p":180,"A":28,"C":26,"G":24,"T":22},
{"p":181,"A":28,"C":26,"G":24,"T":22},{"p":182,"A":27,"C":28,"G":21,"T":24},{"p":183,"A":28,"C":25,"G":24,"T":23},{"p":184,"A":29,"C":26,"G":22,"T":23},{"p":185,"A":27,"C":27,"G":24,"T":22},
{"p":186,"A":28,"C":25,"G":23,"T":24},{"p":187,"A":28,"C":27,"G":22,"T":23},{"p":188,"A":29,"C":25,"G":22,"T":24},{"p":189,"A":27,"C":26,"G":25,"T":22},{"p":190,"A":28,"C":27,"G":23,"T":22},
{"p":191,"A":31,"C":25,"G":19,"T":25},{"p":192,"A":29,"C":25,"G":22,"T":24},{"p":193,"A":31,"C":24,"G":22,"T":23},{"p":194,"A":30,"C":26,"G":20,"T":24},{"p":195,"A":29,"C":25,"G":21,"T":25},
{"p":196,"A":31,"C":24,"G":22,"T":23},{"p":197,"A":30,"C":24,"G":22,"T":24},{"p":198,"A":29,"C":26,"G":21,"T":24},{"p":199,"A":31,"C":26,"G":18,"T":25},{"p":200,"A":31,"C":24,"G":22,"T":23},
{"p":201,"A":31,"C":25,"G":21,"T":23},{"p":202,"A":30,"C":27,"G":18,"T":25},{"p":203,"A":31,"C":24,"G":21,"T":24},{"p":204,"A":32,"C":25,"G":19,"T":24},{"p":205,"A":30,"C":26,"G":21,"T":23},
{"p":206,"A":31,"C":24,"G":20,"T":25},{"p":207,"A":31,"C":26,"G":19,"T":24},{"p":208,"A":32,"C":24,"G":19,"T":25},{"p":209,"A":30,"C":25,"G":22,"T":23},{"p":210,"A":31,"C":26,"G":20,"T":23},
{"p":211,"A":33,"C":25,"G":18,"T":24},{"p":212,"A":31,"C":25,"G":21,"T":23},{"p":213,"A":33,"C":24,"G":21,"T":22},{"p":214,"A":32,"C":26,"G":19,"T":23},{"p":215,"A":31,"C":25,"G":20,"T":24},
{"p":216,"A":33,"C":24,"G":21,"T":22},{"p":217,"A":32,"C":24,"G":21,"T":23},{"p":218,"A":31,"C":26,"G":20,"T":23},{"p":219,"A":33,"C":26,"G":17,"T":24},{"p":220,"A":33,"C":24,"G":21,"T":22},
{"p":221,"A":34,"C":24,"G":20,"T":22},{"p":222,"A":33,"C":26,"G":17,"T":24},{"p":223,"A":34,"C":23,"G":20,"T":23},{"p":224,"A":35,"C":24,"G":18,"T":23},{"p":225,"A":33,"C":25,"G":20,"T":22},
{"p":226,"A":34,"C":23,"G":19,"T":24},{"p":227,"A":34,"C":25,"G":18,"T":23},{"p":228,"A":35,"C":23,"G":18,"T":24},{"p":229,"A":33,"C":24,"G":21,"T":22},{"p":230,"A":34,"C":25,"G":19,"T":22},
{"p":231,"A":37,"C":23,"G":16,"T":24},{"p":232,"A":35,"C":23,"G":19,"T":23},{"p":233,"A":37,"C":22,"G":19,"T":22},{"p":234,"A":36,"C":24,"G":17,"T":23},{"p":235,"A":35,"C":23,"G":18,"T":24},
{"p":236,"A":37,"C":22,"G":19,"T":22},{"p":237,"A":36,"C":22,"G":19,"T":23},{"p":238,"A":35,"C":24,"G":18,"T":23},{"p":239,"A":37,"C":24,"G":15,"T":24},{"p":240,"A":37,"C":22,"G":19,"T":22},
{"p":241,"A":39,"C":21,"G":19,"T":21},{"p":242,"A":38,"C":23,"G":16,"T":23},{"p":243,"A":39,"C":20,"G":19,"T":22},{"p":244,"A":40,"C":21,"G":17,"T":22},{"p":245,"A":38,"C":22,"G":19,"T":21},
{"p":246,"A":39,"C":20,"G":18,"T":23},{"p":247,"A":39,"C":22,"G":17,"T":22},{"p":248,"A":40,"C":20,"G":17,"T":23},{"p":249,"A":38,"C":21,"G":20,"T":21},{"p":250,"A":39,"C":22,"G":18,"T":21},
{"p":251,"A":57,"C":2,"G":19,"T":22}
  ]
}
}
